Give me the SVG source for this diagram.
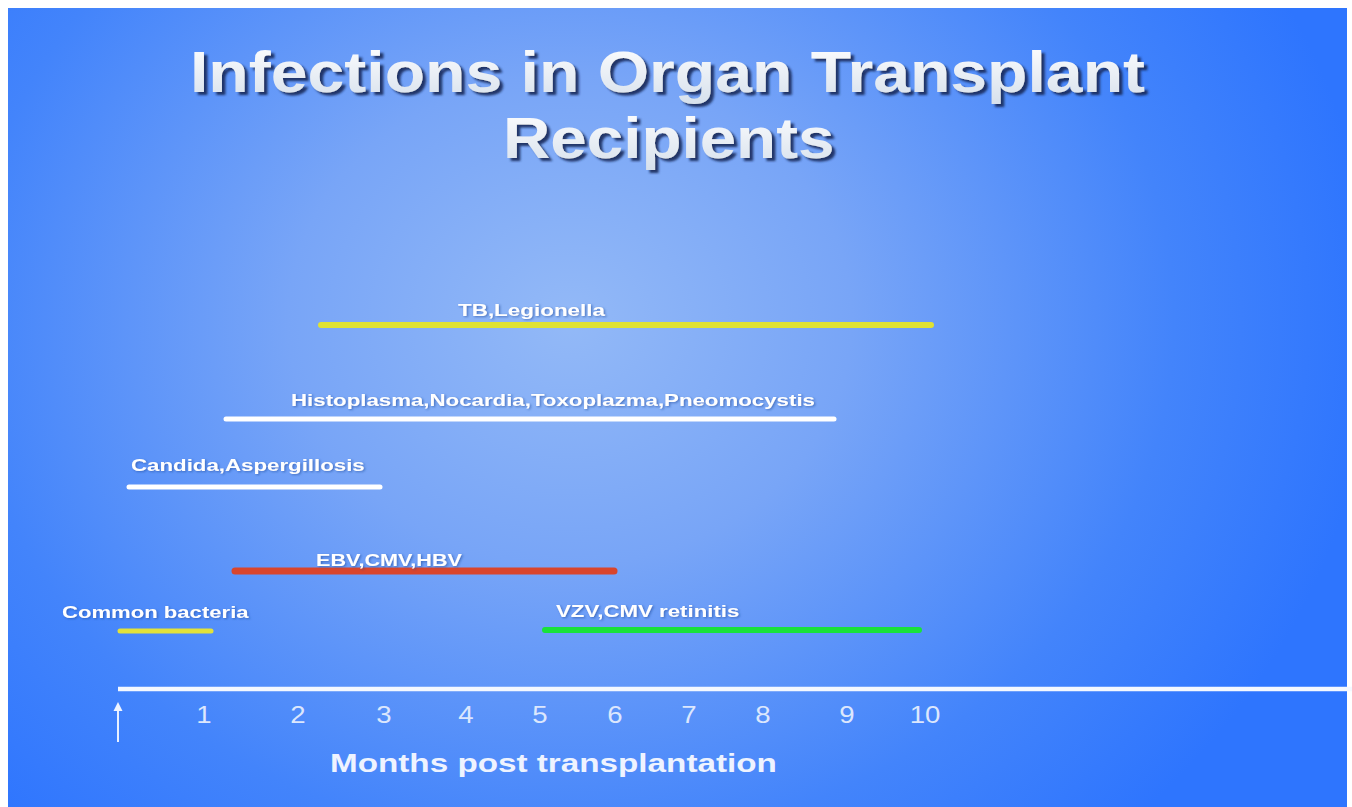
<svg xmlns="http://www.w3.org/2000/svg" width="1352" height="807" viewBox="0 0 1352 807">
<defs>
<radialGradient id="bg" gradientUnits="userSpaceOnUse" cx="570" cy="320" r="700" gradientTransform="translate(570 320) scale(1.15 1) translate(-570 -320)">
<stop offset="0" stop-color="#93b9f7"/>
<stop offset="0.35" stop-color="#78a5f7"/>
<stop offset="0.75" stop-color="#4384fb"/>
<stop offset="1" stop-color="#2e75fe"/>
</radialGradient>
<linearGradient id="titleFill" x1="0" y1="0" x2="0" y2="1">
<stop offset="0" stop-color="#ffffff"/>
<stop offset="1" stop-color="#d6e0ec"/>
</linearGradient>
<filter id="titleShadow" x="-5%" y="-30%" width="110%" height="160%">
<feDropShadow dx="3" dy="3" stdDeviation="1" flood-color="#14265a" flood-opacity="0.9"/>
</filter>
<filter id="lblShadow" x="-5%" y="-40%" width="110%" height="180%">
<feDropShadow dx="1" dy="1" stdDeviation="0.8" flood-color="#24499a" flood-opacity="0.6"/>
</filter>
<filter id="glow" x="-5%" y="-200%" width="110%" height="500%">
<feGaussianBlur stdDeviation="2"/>
</filter>
<style>
.title{font-family:"Liberation Sans",Arial,sans-serif;font-weight:bold;font-size:57px;fill:url(#titleFill);filter:url(#titleShadow);}
.lbl{font-family:"Liberation Sans",Arial,sans-serif;font-weight:bold;font-size:17px;fill:#ffffff;filter:url(#lblShadow);}
.tick{font-family:"Liberation Sans",Arial,sans-serif;font-size:23px;fill:#dce7fd;text-anchor:middle;}
.axisLbl{font-family:"Liberation Sans",Arial,sans-serif;font-weight:bold;font-size:25px;fill:#eef3ff;}
.bar{stroke-linecap:round;fill:none;}
</style>
</defs>

<rect x="0" y="0" width="1352" height="807" fill="#ffffff"/>
<rect x="8" y="8" width="1339" height="799" fill="url(#bg)"/>

<g id="title">
<text class="title" transform="translate(190 92) scale(1.16 1)">Infections in Organ Transplant</text>
<text class="title" transform="translate(503 158) scale(1.15 1)">Recipients</text>
</g>

<g id="connectors">
<g id="axis">
<line x1="118" y1="689" x2="1352" y2="689" stroke="#cfe0ff" stroke-width="9" opacity="0.5" filter="url(#glow)"/>
<line x1="118" y1="689" x2="1352" y2="689" stroke="#f4f8ff" stroke-width="4.5"/>
<line x1="118" y1="742" x2="118" y2="709" stroke="#e8f0ff" stroke-width="2"/>
<path d="M118,702 L122.5,711 L113.5,711 Z" fill="#eef4ff"/>
</g>
</g>

<g id="ticks">
<text class="tick" transform="translate(204 723) scale(1.2 1)">1</text>
<text class="tick" transform="translate(298 723) scale(1.2 1)">2</text>
<text class="tick" transform="translate(384 723) scale(1.2 1)">3</text>
<text class="tick" transform="translate(466 723) scale(1.2 1)">4</text>
<text class="tick" transform="translate(540 723) scale(1.2 1)">5</text>
<text class="tick" transform="translate(615 723) scale(1.2 1)">6</text>
<text class="tick" transform="translate(689 723) scale(1.2 1)">7</text>
<text class="tick" transform="translate(763 723) scale(1.2 1)">8</text>
<text class="tick" transform="translate(847 723) scale(1.2 1)">9</text>
<text class="tick" transform="translate(925 723) scale(1.2 1)">10</text>
</g>

<g id="axis-label">
<text class="axisLbl" transform="translate(330 772) scale(1.33 1)">Months post transplantation</text>
</g>

<g id="tb-legionella">
<line class="bar" x1="321" y1="325" x2="931" y2="325" stroke="#dfe233" stroke-width="6"/>
<text class="lbl" transform="translate(458 316) scale(1.32 1)">TB,Legionella</text>
</g>

<g id="histoplasma">
<line class="bar" x1="226" y1="419" x2="834" y2="419" stroke="#ffffff" stroke-width="5"/>
<text class="lbl" transform="translate(291 406) scale(1.31 1)">Histoplasma,Nocardia,Toxoplazma,Pneomocystis</text>
</g>

<g id="candida">
<line class="bar" x1="129" y1="487" x2="380" y2="487" stroke="#ffffff" stroke-width="5"/>
<text class="lbl" transform="translate(131 471) scale(1.31 1)">Candida,Aspergillosis</text>
</g>

<g id="ebv-cmv-hbv">
<line class="bar" x1="235" y1="571" x2="614" y2="571" stroke="#d9452c" stroke-width="7"/>
<text class="lbl" transform="translate(316 566) scale(1.27 1)">EBV,CMV,HBV</text>
</g>

<g id="common-bacteria">
<line class="bar" x1="120" y1="631" x2="211" y2="631" stroke="#e2e23a" stroke-width="5"/>
<text class="lbl" transform="translate(62 618) scale(1.3 1)">Common bacteria</text>
</g>

<g id="vzv-cmv-retinitis">
<line class="bar" x1="545" y1="630" x2="919" y2="630" stroke="#19e23a" stroke-width="6"/>
<text class="lbl" transform="translate(556 617) scale(1.31 1)">VZV,CMV retinitis</text>
</g>
</svg>
